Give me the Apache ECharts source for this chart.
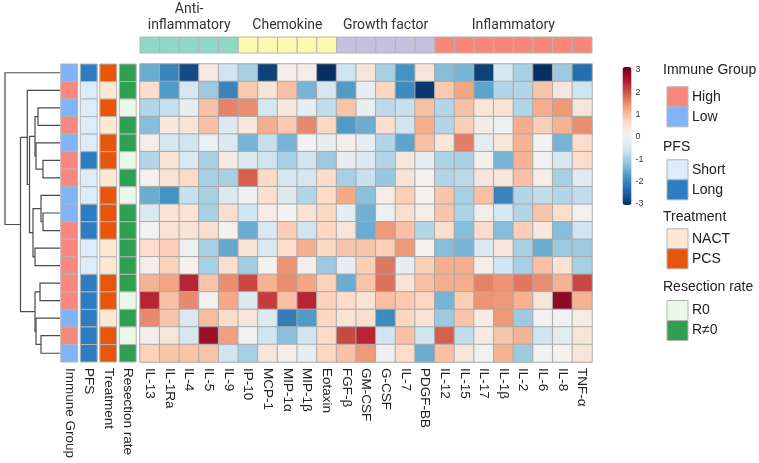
<!DOCTYPE html>
<html><head><meta charset="utf-8">
<script src="https://cdn.jsdelivr.net/npm/echarts@6/dist/echarts.min.js"></script>
<style>html,body{margin:0;padding:0;background:#fff}#c{width:759px;height:463px}</style>
</head><body><div id="c"></div>
<script>
// ---------- DATA ----------
const rowIds = ['S1','S2','S3','S4','S5','S6','S7','S8','S9','S10','S11','S12','S13','S14','S15','S16','S17'];
const annotCols = ['Immune Group','PFS','Treatment','Resection rate'];
const cytokines = ['IL-13','IL-1Ra','IL-4','IL-5','IL-9','IP-10','MCP-1','MIP-1α','MIP-1β','Eotaxin','FGF-β','GM-CSF','G-CSF','IL-7','PDGF-BB','IL-12','IL-15','IL-17','IL-1β','IL-2','IL-6','IL-8','TNF-α'];
const groupNames = ['Anti-\ninflammatory','Chemokine','Growth factor','Inflammatory'];
const cytokineGroup = [0,0,0,0,0,1,1,1,1,1,2,2,2,2,2,3,3,3,3,3,3,3,3];

const immuneGroup = ['Low','High','Low','High','Low','High','High','Low','Low','High','High','High','High','High','Low','High','Low'];
const pfs         = ['Long','Short','Short','Short','Short','Long','Short','Short','Long','Long','Short','Short','Long','Long','Long','Long','Long'];
const treatment   = ['PCS','NACT','PCS','NACT','PCS','PCS','NACT','PCS','PCS','PCS','NACT','NACT','PCS','PCS','NACT','PCS','PCS'];
const resection   = ['R≠0','R≠0','R0','R≠0','R≠0','R0','R≠0','R0','R≠0','R≠0','R≠0','R≠0','R≠0','R0','R≠0','R0','R≠0'];

const values = [
 [-1.5,-2.0,-2.7,0.2,-0.6,-1.0,-2.8,0.1,0.15,-3.0,-0.6,0.35,-1.0,-1.8,0.35,-1.3,-1.4,-2.8,-0.5,-1.0,-3.0,-1.1,-2.3],
 [0.5,-1.7,-0.5,-1.1,-2.0,0.8,0.4,0.9,-1.4,-0.5,-1.7,-0.2,0.65,-1.9,-2.9,0.8,1.2,-1.6,-0.9,-0.9,0.85,0.35,-0.6],
 [-0.9,-0.7,-0.2,0.9,1.5,1.4,-0.5,0.3,-0.2,-0.75,0.85,-0.2,-0.8,-0.7,0.9,-0.9,0.9,0.35,0.4,-0.9,1.1,1.3,0.35],
 [-1.3,0.3,0.4,0.9,-0.4,0.3,1.1,0.8,1.45,0.65,-1.7,-1.5,0.5,-0.6,1.1,-0.9,0.75,0.2,-0.15,1.1,0.75,1.05,1.4],
 [0.15,-0.5,-0.6,-0.15,-0.4,-1.4,-0.7,-1.4,0,-0.2,0.1,-0.2,-0.9,-1.6,0.9,0.3,1.55,-0.3,0.35,1.05,0,-1.4,0.55],
 [-0.9,0.4,-0.45,-1.0,0.2,-0.4,-0.6,-1.0,-0.6,-1.1,-0.2,-0.4,-0.9,0.35,-0.2,-0.95,-1.0,0.1,-1.4,1.05,-0.05,-0.5,0.55],
 [0.05,0.4,0.6,-1.0,-1.0,1.8,0.6,-0.5,-0.5,0.55,-1.0,-0.7,-1.15,0.4,0.05,-0.9,-0.8,0.35,0.35,0.9,0.1,-1.0,-0.35],
 [-1.5,-1.8,-0.7,-1.0,-0.4,-0.1,0.5,-0.4,-0.9,0.6,1.15,-1.25,0.15,0.75,0.05,0.85,-1.0,0.9,-2.0,-0.9,-0.75,-0.9,-0.75],
 [-0.45,0.4,0.4,-1.0,0.5,-0.6,0.15,0.0,0.4,0.65,-0.25,-1.45,-0.1,0.5,0.15,0.85,-0.95,0.15,-0.5,-0.9,0.85,0.5,0.05],
 [0,0.4,0.4,0.5,0.05,-1.5,-0.45,0.75,-0.6,0.65,0.35,-1.5,1.3,0.9,-0.9,0.5,-1.3,0.55,-1.3,0.75,0.25,-1.3,-0.6],
 [0.55,0.75,-0.1,-1.0,-1.55,0.4,-0.45,0.55,1.1,0.65,0.85,0.85,0.75,1.3,0.05,-1.3,-1.4,-0.45,0.35,-1.0,-1.5,-1.1,-1.1],
 [0.1,0.7,0.05,-1.0,0.5,-1.05,0.05,1.35,0.1,-1.1,-0.25,0.75,1.6,-0.2,0.75,1.1,1.1,0.1,-0.6,-1.0,0.9,0.4,-1.0],
 [1.05,1.2,2.3,0.85,1.4,2.0,1.05,1.4,1.2,0.7,-1.5,0.85,1.65,0.4,0.9,1.1,1.1,1.5,1.35,1.6,1.4,1.05,2.0],
 [2.3,0.9,1.45,0.05,1.15,-0.4,2.1,0.9,2.3,0.7,0.55,0.4,0.9,0.8,0.65,-1.4,0.75,1.35,1.3,1.05,0.35,2.7,1.05],
 [1.45,0.85,-0.45,0.95,0.55,0.35,-0.4,-2.1,-1.7,0.65,0.4,0.5,-1.9,0.65,0.4,-1.1,0.85,0.2,1.3,-1.1,-0.05,-0.05,0.15],
 [0.1,0.35,-0.5,2.6,1.25,0,-0.6,-1.25,-0.6,0.6,2.0,2.3,-0.6,0.9,-0.6,1.8,-0.75,0.2,0.85,1.05,-0.6,-0.3,0.35],
 [0.7,0.85,0.85,0.85,-0.6,-1.0,0.35,0.15,-0.2,0.65,0.9,1.3,-0.1,0.55,-1.5,0.9,0.35,-0.05,1.05,-1.1,-0.05,0.05,0.35]
];

// dendrogram merges: [left, right, height]; >=0 leaf row index, <0 -> merge index -(k+1)
const merges = [
 [5,6,17],[4,-1,24],[2,3,22],[-3,-2,25],
 [8,9,17],[7,-5,19],[10,11,25],[-6,-7,27],
 [-4,-8,30.5],[1,-9,32.7],
 [12,13,20],[15,16,19],[14,-12,24],[-11,-13,25],
 [-10,-14,39.5],[0,-15,55]
];

// ---------- STYLES ----------
const annotColors = [
 {High:'#F8887E', Low:'#80B3F7'},
 {Short:'#DEEBF8', Long:'#2C7DC2'},
 {NACT:'#FDE9D2', PCS:'#E8560C'},
 {'R0':'#EAF8E7', 'R≠0':'#2FA052'}
];
const groupColors = ['#8FD8C6','#FFF9B0','#C6BFE0','#F8877A'];
const rdbu = ['#053061','#2166ac','#4393c3','#92c5de','#d1e5f0','#f2f2f2','#fddbc7','#f4a582','#d6604d','#b2182b','#67001f'];
const annotArrays = [immuneGroup, pfs, treatment, resection];
const labelFont = {fontFamily:'Liberation Sans', fontSize:13.5, color:'#222'};

// ---------- BUILD ----------
const heatData = [];
values.forEach((row, r) => row.forEach((v, c) => heatData.push([c, r, v])));
const annotData = [];
annotArrays.forEach((arr, c) => arr.forEach((v, r) => annotData.push([c, r])));
const topData = cytokines.map((n, i) => [i, 0]);
const groupSpans = groupNames.map((g, gi) => {
  const idx = cytokineGroup.map((x, i) => x === gi ? i : -1).filter(i => i >= 0);
  return [idx[0], idx[idx.length - 1]];
});
function nodeInfo(ref) {
  if (ref >= 0) return {h: 0, y: ref};
  const m = merges[-ref - 1];
  const a = nodeInfo(m[0]), b = nodeInfo(m[1]);
  return {h: m[2], y: (a.y + b.y) / 2};
}
const dendroData = merges.map(m => [m[2], (nodeInfo(m[0]).y + nodeInfo(m[1]).y) / 2]);

const hiddenCat = (data, inv) => ({type:'category', data, show:false, inverse: !!inv});
const chart = echarts.init(document.getElementById('c'));
const option = {
  animation: false,
  grid: [
    {left:59.5, top:64, width:78, height:298},
    {left:140, top:64, width:452, height:298},
    {left:140, top:37, width:452, height:16},
    {left:4, top:64, width:56, height:298},
    {left:622.5, top:70, width:9, height:134}
  ],
  xAxis: [
    {type:'category', gridIndex:0, data:annotCols, axisLine:{show:false}, axisTick:{show:false},
     axisLabel:Object.assign({rotate:-90, margin:6, interval:0}, labelFont)},
    {type:'category', gridIndex:1, data:cytokines, axisLine:{show:false}, axisTick:{show:false},
     axisLabel:Object.assign({rotate:-90, margin:6, interval:0}, labelFont)},
    Object.assign(hiddenCat(cytokines), {gridIndex:2}),
    {type:'value', gridIndex:3, min:0, max:56, inverse:true, show:false},
    {type:'value', gridIndex:4, show:false}
  ],
  yAxis: [
    Object.assign(hiddenCat(rowIds, true), {gridIndex:0}),
    Object.assign(hiddenCat(rowIds, true), {gridIndex:1}),
    Object.assign(hiddenCat(['group']), {gridIndex:2}),
    {type:'value', gridIndex:3, min:-0.5, max:16.5, inverse:true, show:false},
    {type:'value', gridIndex:4, min:-3, max:3, interval:1, position:'right',
     axisLine:{show:false}, axisTick:{show:false}, splitLine:{show:false},
     axisLabel:{fontSize:9, color:'#333', margin:4, fontFamily:'Liberation Sans'}}
  ],
  visualMap: {
    type:'continuous', min:-3, max:3, seriesIndex:1, inRange:{color:rdbu},
    left:622.5, top:67, itemWidth:9, itemHeight:138, padding:0, calculable:false, hoverLink:false
  },
  series: [
    { type:'custom', xAxisIndex:0, yAxisIndex:0, clip:false, data:annotData,
      renderItem(params, api) {
        const c = api.value(0), r = api.value(1);
        const p = api.coord([c, r]); const s = api.size([1, 1]);
        const col = annotColors[c][annotArrays[c][r]];
        return {type:'rect', shape:{x:p[0]-s[0]/2+1.3, y:p[1]-s[1]/2, width:s[0]-2.6, height:s[1]},
          style:{fill:col, stroke:'#b4b4b4', lineWidth:1}};
      }},
    { type:'heatmap', xAxisIndex:1, yAxisIndex:1, data:heatData,
      itemStyle:{borderColor:'#a9a9a9', borderWidth:1}, emphasis:{disabled:true} },
    { type:'custom', xAxisIndex:2, yAxisIndex:2, clip:false, data:topData,
      renderItem(params, api) {
        const i = api.value(0);
        const p = api.coord([i, 0]); const s = api.size([1, 1]);
        return {type:'rect', shape:{x:p[0]-s[0]/2, y:p[1]-s[1]/2, width:s[0], height:s[1]},
          style:{fill:groupColors[cytokineGroup[i]], stroke:'#b4b4b4', lineWidth:1}};
      }},
    { type:'custom', xAxisIndex:2, yAxisIndex:2, clip:false, data:groupSpans,
      renderItem(params, api) {
        const a = api.coord([api.value(0), 0]), b = api.coord([api.value(1), 0]);
        const s = api.size([1, 1]);
        return {type:'text', style:{text:groupNames[params.dataIndex], x:(a[0]+b[0])/2, y:a[1]-s[1]/2-4,
          align:'center', verticalAlign:'bottom', fill:'#333', font:'14px Roboto', lineHeight:16}};
      }},
    { type:'custom', xAxisIndex:3, yAxisIndex:3, clip:false, data:dendroData,
      renderItem(params, api) {
        const m = merges[params.dataIndex];
        const a = nodeInfo(m[0]), b = nodeInfo(m[1]);
        const pts = [api.coord([a.h, a.y]), api.coord([m[2], a.y]), api.coord([m[2], b.y]), api.coord([b.h, b.y])];
        return {type:'polyline', shape:{points:pts}, style:{stroke:'#4a4a4a', lineWidth:1.2, fill:null}};
      }}
  ]
};

// legend (graphic)
const legendTitleY = [72, 149, 219, 289];
const legendBoxY = [86.3, 159.3, 228.3, 300];
const graphics = [];
annotColors.forEach((map, gi) => {
  graphics.push({type:'text', left:663, top:legendTitleY[gi]-9, style:{text:annotCols[gi], fill:'#222', font:'14px "Liberation Sans"'}});
  Object.keys(map).forEach((k, ki) => {
    const y = legendBoxY[gi] + ki*20;
    graphics.push({type:'rect', left:666.5, top:y, shape:{width:21, height:20}, style:{fill:map[k], stroke:'#b4b4b4', lineWidth:1}});
    graphics.push({type:'text', left:692, top:y+3.5, style:{text:k, fill:'#222', font:'14px "Liberation Sans"'}});
  });
});
option.graphic = graphics;
chart.setOption(option);
</script></body></html>
